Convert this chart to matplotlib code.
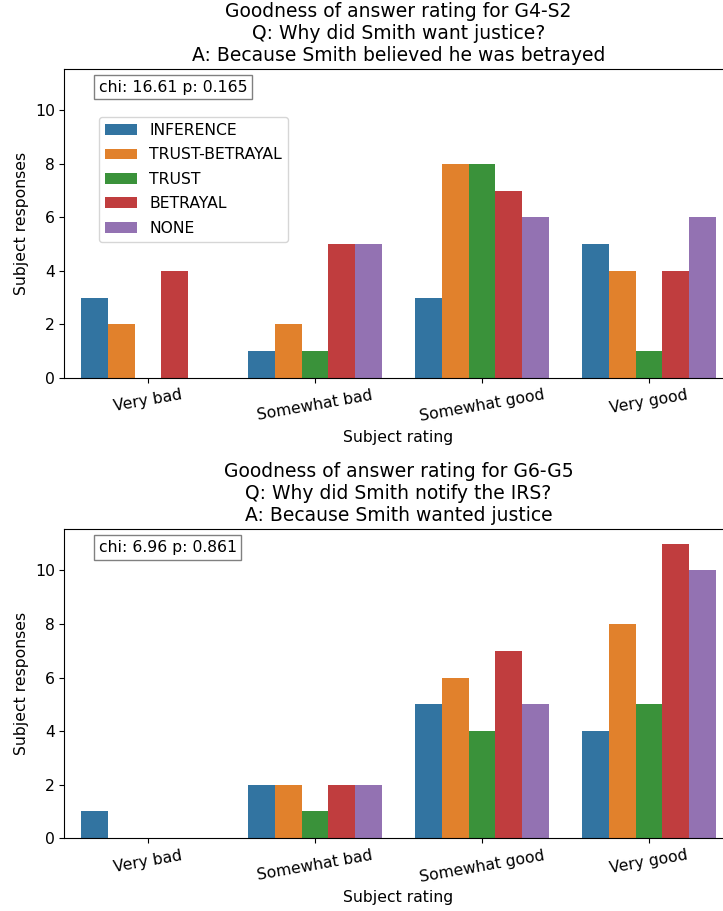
import numpy as np
import matplotlib
matplotlib.use("Agg")
import matplotlib.pyplot as plt

# Data
ratings = ["Very bad", "Somewhat bad", "Somewhat good", "Very good"]
answer_types = ["INFERENCE", "TRUST-BETRAYAL", "TRUST", "BETRAYAL", "NONE"]
colors = ["#3274a1", "#e1812c", "#3a923a", "#c03d3e", "#9372b2"]

# rows: answer type, columns: rating
top_counts = [
    [3, 1, 3, 5],   # INFERENCE
    [2, 2, 8, 4],   # TRUST-BETRAYAL
    [0, 1, 8, 1],   # TRUST
    [4, 5, 7, 4],   # BETRAYAL
    [0, 5, 6, 6],   # NONE
]
bottom_counts = [
    [1, 2, 5, 4],
    [0, 2, 6, 8],
    [0, 1, 4, 5],
    [0, 2, 7, 11],
    [0, 2, 5, 10],
]
top_title = ("Goodness of answer rating for G4-S2\n"
             "Q: Why did Smith want justice?\n"
             "A: Because Smith believed he was betrayed")
bottom_title = ("Goodness of answer rating for G6-G5\n"
                "Q: Why did Smith notify the IRS?\n"
                "A: Because Smith wanted justice")
top_stats = "chi: 16.61 p: 0.165"
bottom_stats = "chi: 6.96 p: 0.861"

plt.rcParams["font.size"] = 11.25

########################################################################

def plotRatings(ax, counts, title, stats, show_legend):
    x = np.arange(len(ratings))
    n = len(answer_types)
    width = 0.8 / n
    for i, name in enumerate(answer_types):
        offset = (i - (n - 1) / 2) * width
        ax.bar(x + offset, counts[i], width, color=colors[i], label=name, linewidth=0)

    ax.set_xticks(x)
    ax.set_xticklabels(ratings, rotation=10)
    ax.set_xlim(-0.5, 3.5)
    ax.set_ylim(0, 11.55)
    ax.set_yticks([0, 2, 4, 6, 8, 10])
    ax.set_xlabel("Subject rating")
    ax.set_ylabel("Subject responses")
    ax.set_title(title)

    ax.text(0.051, 0.965, stats, transform=ax.transAxes,
            va="top", ha="left",
            bbox=dict(boxstyle="square,pad=0.3", facecolor="white", edgecolor="gray"))

    if show_legend:
        ax.legend(loc="upper left", bbox_to_anchor=(0.052, 0.845), borderaxespad=0,
                  labelspacing=0.6)

########################################################################
if __name__ == "__main__":
    fig = plt.figure(figsize=(7.23, 9.11), dpi=100)
    ax_top = fig.add_axes([0.0892, 0.5851, 0.924, 0.3392])
    ax_bottom = fig.add_axes([0.0892, 0.0801, 0.924, 0.3392])

    plotRatings(ax_top, top_counts, top_title, top_stats, True)
    plotRatings(ax_bottom, bottom_counts, bottom_title, bottom_stats, False)

    fig.savefig("out.png", dpi=100)
